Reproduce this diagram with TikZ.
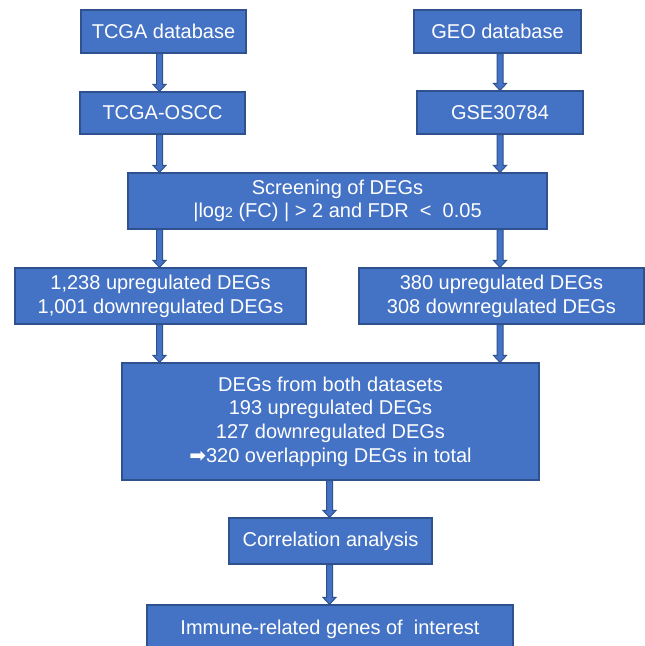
\documentclass[tikz,border=0pt]{standalone}
\usepackage{fontspec}
\setmainfont{Liberation Sans}
\newfontfamily\symfont{DejaVu Sans}
\usetikzlibrary{calc}
\definecolor{boxblue}{HTML}{4472C4}
\definecolor{boxedge}{HTML}{2F528F}
\tikzset{
  caixa/.style={draw=boxedge, fill=boxblue, line width=1.2pt, text=white, align=center,
    inner sep=0pt, font=\fontsize{20}{23.7}\selectfont},
  seta/.style={draw=boxedge, fill=boxblue, line width=1pt, line join=miter}
}
% seta em bloco, de #1 para baixo ate #2
\newcommand{\setabaixo}[2]{%
  \filldraw[seta] let \p1=(#1), \p2=(#2) in
    (\x1-3pt,\y1) -- (\x1+3pt,\y1) -- (\x1+3pt,\y2+7pt) -- (\x1+6.5pt,\y2+7pt)
    -- (\x1,\y2) -- (\x1-6.5pt,\y2+7pt) -- (\x1-3pt,\y2+7pt) -- cycle;
}
\begin{document}
\begin{tikzpicture}[x=1pt, y=-1pt]
	\clip (0,0) rectangle (645,646);
	\fill[white] (0,0) rectangle (645,646);
	
	% Colunas das setas
	\coordinate (colL) at (159.5,0);
	\coordinate (colR) at (500,0);
	\coordinate (colC) at (329.5,0);
	
	% Caixas
	\node[caixa, minimum width=165pt, minimum height=43pt] (tcga) at (163.5,31.5) {TCGA database};
	\node[caixa, minimum width=167pt, minimum height=43pt] (geo) at (497.5,31.5) {GEO database};
	\node[caixa, minimum width=165pt, minimum height=42pt] (oscc) at (162.5,113) {TCGA-OSCC};
	\node[caixa, minimum width=166pt, minimum height=43pt] (gse) at (500,112.5) {GSE30784};
	\node[caixa, minimum width=419pt, minimum height=56pt] (screen) at (337.5,201)
		{Screening of DEGs\\|log{\fontsize{14}{14}\selectfont 2} (FC) | > 2 and FDR ~<~ 0.05};
	\node[caixa, minimum width=291pt, minimum height=56pt] (tcgadeg) at (160.5,296)
		{1,238 upregulated DEGs\\1,001 downregulated DEGs};
	\node[caixa, minimum width=285pt, minimum height=56pt] (geodeg) at (501.5,296)
		{380 upregulated DEGs\\308 downregulated DEGs};
	\node[caixa, minimum width=417pt, minimum height=117pt] (both) at (330.5,421.5)
		{DEGs from both datasets\\193 upregulated DEGs\\127 downregulated DEGs\\{\symfont\fontsize{20}{20}\selectfont ➡}320 overlapping DEGs in total};
	\node[caixa, minimum width=203pt, minimum height=46pt] (corr) at (330.5,541) {Correlation analysis};
	\node[caixa, minimum width=366pt, minimum height=48pt] (immune) at (330,629) {Immune-related genes of~ interest};
	
	% Setas
	\setabaixo{tcga.south -| colL}{oscc.north -| colL}
	\setabaixo{geo.south -| colR}{gse.north -| colR}
	\setabaixo{oscc.south -| colL}{screen.north -| colL}
	\setabaixo{gse.south -| colR}{screen.north -| colR}
	\setabaixo{screen.south -| colL}{tcgadeg.north -| colL}
	\setabaixo{screen.south -| colR}{geodeg.north -| colR}
	\setabaixo{tcgadeg.south -| colL}{both.north -| colL}
	\setabaixo{geodeg.south -| colR}{both.north -| colR}
	\setabaixo{both.south -| colC}{corr.north -| colC}
	\setabaixo{corr.south -| colC}{immune.north -| colC}
\end{tikzpicture}
\end{document}
